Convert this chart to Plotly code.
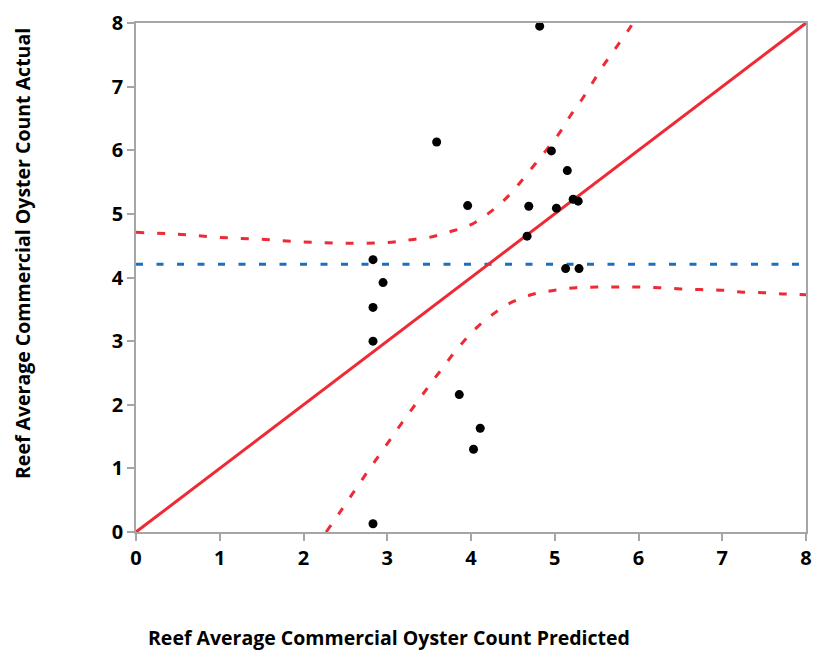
import plotly.graph_objects as go

# Data
predicted = [2.83, 2.95, 2.83, 2.83, 2.83, 4.82, 3.59, 4.96, 5.15, 3.96,
             4.69, 5.02, 5.22, 5.28, 4.67, 5.13, 5.29, 3.86, 4.11, 4.03]
actual = [4.28, 3.92, 3.53, 3.00, 0.13, 7.95, 6.13, 5.99, 5.68, 5.13,
          5.12, 5.09, 5.23, 5.20, 4.65, 4.14, 4.14, 2.16, 1.63, 1.30]

mean_actual = 4.21
fit_x = [0, 8]
fit_y = [0, 8]

upper_x = [0.0, 0.5, 1.0, 1.5, 2.0, 2.5, 3.0, 3.25, 3.5, 3.75, 4.0, 4.2,
           4.4, 4.56, 4.72, 4.88, 5.04, 5.18, 5.32, 5.46, 5.6, 5.74, 5.9, 5.95]
upper_y = [4.71, 4.68, 4.63, 4.60, 4.56, 4.54, 4.55, 4.59, 4.63, 4.72, 4.83, 5.0,
           5.22, 5.45, 5.71, 5.97, 6.24, 6.53, 6.79, 7.08, 7.37, 7.63, 7.93, 8.05]

lower_x = [2.27, 2.44, 2.6, 2.75, 2.9, 3.05, 3.2, 3.35, 3.5, 3.65, 3.8, 3.95,
           4.1, 4.3, 4.5, 4.75, 5.0, 5.25, 5.5, 5.75, 6.0, 6.25, 6.5, 6.75,
           7.0, 7.25, 7.5, 7.75, 8.0]
lower_y = [0.0, 0.32, 0.63, 0.92, 1.2, 1.48, 1.76, 2.03, 2.30, 2.56, 2.82, 3.05,
           3.25, 3.46, 3.62, 3.74, 3.80, 3.84, 3.85, 3.85, 3.85, 3.84, 3.82, 3.81,
           3.80, 3.77, 3.76, 3.74, 3.73]

tick_vals = [0, 1, 2, 3, 4, 5, 6, 7, 8]

RED = "#ee2a35"
BLUE = "#1a6fbf"
AXIS = "#a6a6a6"

fig = go.Figure()
fig.add_trace(go.Scatter(x=upper_x, y=upper_y, mode="lines", line_shape="spline",
                         line=dict(color=RED, width=3, dash="8px,13px"), hoverinfo="skip"))
fig.add_trace(go.Scatter(x=lower_x, y=lower_y, mode="lines", line_shape="spline",
                         line=dict(color=RED, width=3, dash="8px,13px"), hoverinfo="skip"))
fig.add_trace(go.Scatter(x=fit_x, y=[mean_actual, mean_actual], mode="lines",
                         line=dict(color=BLUE, width=3, dash="7px,13.5px"), hoverinfo="skip"))
fig.add_trace(go.Scatter(x=fit_x, y=fit_y, mode="lines",
                         line=dict(color=RED, width=3), hoverinfo="skip"))
fig.add_trace(go.Scatter(x=predicted, y=actual, mode="markers",
                         marker=dict(color="black", size=9)))

axis_common = dict(
    range=[0, 8], tickvals=tick_vals, showgrid=False, zeroline=False,
    showline=True, linecolor=AXIS, linewidth=1.5, mirror=True,
    ticks="outside", ticklen=7, tickcolor=AXIS, tickwidth=1.5,
    automargin=False,
    tickfont=dict(family="Open Sans, Noto Sans, sans-serif", size=20,
                  color="black", weight="bold"),
)

# page body adds ~8px offset; compensate so the plot area sits where the reference has it
OFF = 8
W, H = 825 - OFF, 653 - OFF
L, T = 136 - OFF, 23 - OFF
R, B = 19, 121
pw, ph = W - L - R, H - T - B

fig.update_layout(
    width=W, height=H,
    margin=dict(l=L, r=R, t=T, b=B, autoexpand=False),
    plot_bgcolor="white", paper_bgcolor="white",
    showlegend=False,
    xaxis=axis_common,
    yaxis=dict(axis_common, ticklabelstandoff=0),
    font=dict(family="Open Sans, Noto Sans, sans-serif"),
    annotations=[
        dict(text="Reef Average Commercial Oyster Count Predicted",
             xref="paper", yref="paper", x=(389 - 136) / pw, y=(532 - 637) / ph,
             showarrow=False, xanchor="center", yanchor="middle",
             font=dict(size=19.5, color="black", weight="bold")),
        dict(text="Reef Average Commercial Oyster Count Actual",
             xref="paper", yref="paper", x=(22 - 136) / pw, y=(532 - 254) / ph,
             showarrow=False, xanchor="center", yanchor="middle", textangle=-90,
             font=dict(size=19.5, color="black", weight="bold")),
    ],
)

fig.write_html("out.html")
